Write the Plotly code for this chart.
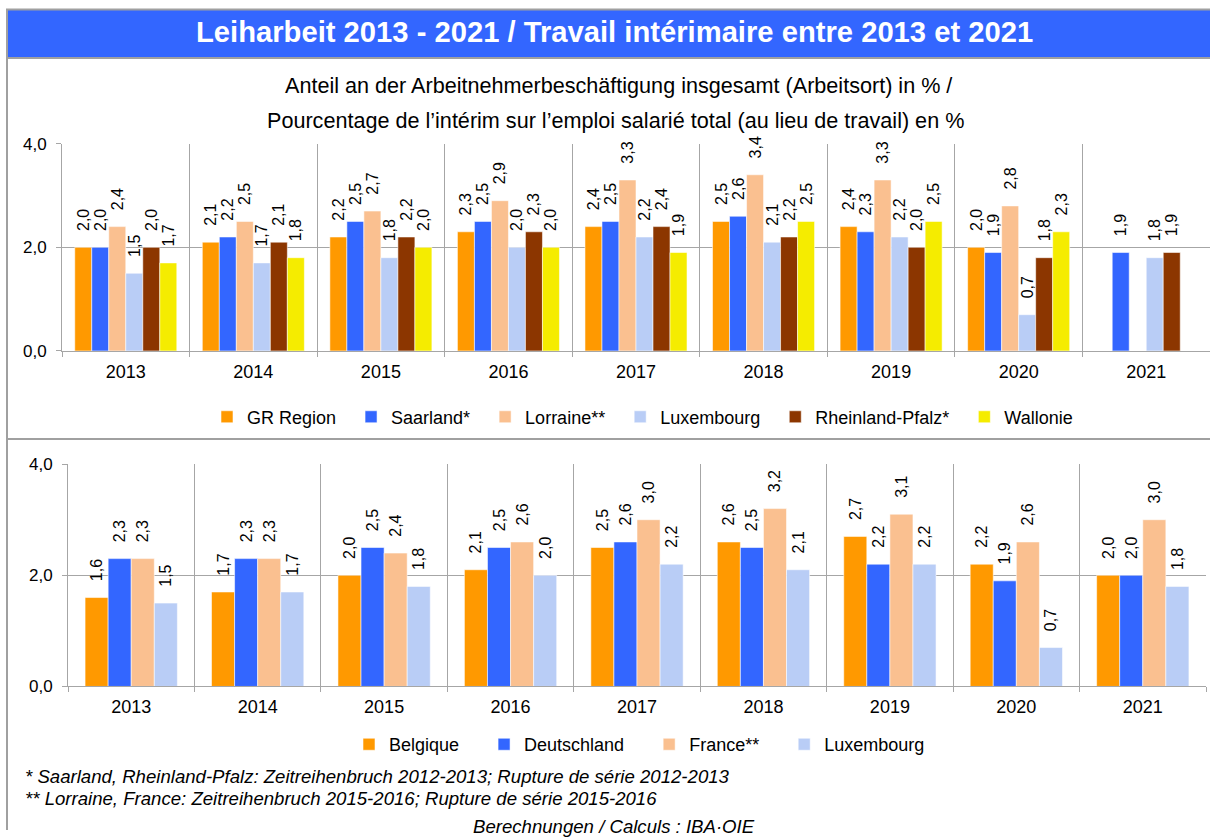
import plotly.graph_objects as go

# ---- data -------------------------------------------------------------
years = ["2013", "2014", "2015", "2016", "2017", "2018", "2019", "2020", "2021"]

# regions (upper chart)
gr_region = [2.0, 2.1, 2.2, 2.3, 2.4, 2.5, 2.4, 2.0, None]
saarland = [2.0, 2.2, 2.5, 2.5, 2.5, 2.6, 2.3, 1.9, 1.9]
lorraine = [2.4, 2.5, 2.7, 2.9, 3.3, 3.4, 3.3, 2.8, None]
luxembourg_r = [1.5, 1.7, 1.8, 2.0, 2.2, 2.1, 2.2, 0.7, 1.8]
rheinland_pfalz = [2.0, 2.1, 2.2, 2.3, 2.4, 2.2, 2.0, 1.8, 1.9]
wallonie = [1.7, 1.8, 2.0, 2.0, 1.9, 2.5, 2.5, 2.3, None]

# countries (lower chart)
belgique = [1.6, 1.7, 2.0, 2.1, 2.5, 2.6, 2.7, 2.2, 2.0]
deutschland = [2.3, 2.3, 2.5, 2.5, 2.6, 2.5, 2.2, 1.9, 2.0]
france = [2.3, 2.3, 2.4, 2.6, 3.0, 3.2, 3.1, 2.6, 3.0]
luxembourg_c = [1.5, 1.7, 1.8, 2.0, 2.2, 2.1, 2.2, 0.7, 1.8]

# ---- styling ------------------------------------------------------------
W, H = 1210, 840
FONT = "Liberation Sans, Arial, sans-serif"
ORANGE, BLUE, PEACH, LIGHTBLUE, BROWN, YELLOW = (
    "#FF9900", "#3366FF", "#FAC090", "#B9CDF6", "#8C3600", "#F5EC00")
GRID = "#A6A6A6"
NB = "\u00a0"

# vertical page layout (pixel rows from the top, as seen on screen)
Y_TOP, Y_SCALE = 10.5, 0.976


def px(x):
    return x / W


def py(y):
    y = (y - Y_TOP) / Y_SCALE
    return min(1.0, max(0.0, 1 - y / H))


def fmt(vals):
    # comma decimal labels, padded so they sit a little above the bars
    return [NB * 3 + f"{v:.1f}".replace(".", ",") if v is not None else ""
            for v in vals]


fig = go.Figure()

top_series = [
    ("GR Region", gr_region, ORANGE),
    ("Saarland*", saarland, BLUE),
    ("Lorraine**", lorraine, PEACH),
    ("Luxembourg", luxembourg_r, LIGHTBLUE),
    ("Rheinland-Pfalz*", rheinland_pfalz, BROWN),
    ("Wallonie", wallonie, YELLOW),
]
for name, vals, col in top_series:
    fig.add_trace(go.Bar(
        x=years, y=vals, name=name + NB * 2, xaxis="x", yaxis="y", legend="legend",
        marker=dict(color=col, line=dict(color="rgba(255,255,255,0.55)", width=1)),
        text=fmt(vals), textposition="outside", textangle=-90,
        textfont=dict(family=FONT, size=16, color="black"),
        constraintext="none", cliponaxis=False, hoverinfo="skip",
    ))

bottom_series = [
    ("Belgique", belgique, ORANGE),
    ("Deutschland", deutschland, BLUE),
    ("France**", france, PEACH),
    ("Luxembourg", luxembourg_c, LIGHTBLUE),
]
group_w = 0.73
bw = group_w / len(bottom_series)
for i, (name, vals, col) in enumerate(bottom_series):
    fig.add_trace(go.Bar(
        x=years, y=vals, name=name + NB * 4, xaxis="x2", yaxis="y2", legend="legend2",
        width=bw, offset=-group_w / 2 + i * bw,
        marker=dict(color=col, line=dict(color="rgba(255,255,255,0.55)", width=1)),
        text=fmt(vals), textposition="outside", textangle=-90,
        textfont=dict(family=FONT, size=16, color="black"),
        constraintext="none", cliponaxis=False, hoverinfo="skip",
    ))

xaxis_common = dict(
    type="category", range=[-0.5, 8.5], showgrid=True, gridcolor=GRID, gridwidth=1,
    tickson="boundaries", ticks="outside", ticklen=5, tickcolor=GRID,
    showline=True, linecolor=GRID, linewidth=1,
    tickfont=dict(family=FONT, size=18, color="black"), ticklabelstandoff=4,
    fixedrange=True,
)
yaxis_common = dict(
    range=[0, 4], tickvals=[0, 2, 4], tickformat=".1f", showgrid=True,
    gridcolor=GRID, gridwidth=1, zeroline=False, showline=True, linecolor=GRID,
    linewidth=1, ticks="outside", ticklen=5, tickcolor=GRID,
    tickfont=dict(family=FONT, size=17, color="black"), ticklabelstandoff=6,
    fixedrange=True,
)

legend_common = dict(
    orientation="h", xanchor="left", yanchor="middle",
    font=dict(family=FONT, size=18, color="black"), bgcolor="rgba(0,0,0,0)",
    traceorder="normal", itemclick=False, itemdoubleclick=False,
)

fig.update_layout(
    width=W, height=H, margin=dict(l=0, r=0, t=0, b=0),
    paper_bgcolor="white", plot_bgcolor="white",
    separators=",.", barmode="group", bargap=0.2, bargroupgap=0,
    font=dict(family=FONT, color="black"),
    xaxis=dict(domain=[px(62), px(1210)], anchor="y", **xaxis_common),
    yaxis=dict(domain=[py(352), py(145)], anchor="x", **yaxis_common),
    xaxis2=dict(domain=[px(68), px(1206)], anchor="y2", **xaxis_common),
    yaxis2=dict(domain=[py(687), py(465)], anchor="x2", **yaxis_common),
    legend=dict(x=px(207), y=py(418), **legend_common),
    legend2=dict(x=px(349), y=py(745), **legend_common),
    showlegend=True,
)

# frame, title band and separator
shapes = [
    dict(type="line", xref="paper", yref="paper", x0=px(7), x1=px(7),
         y0=0, y1=py(10), line=dict(color="#A0A0A0", width=2)),
    dict(type="rect", xref="paper", yref="paper", x0=px(8), x1=1,
         y0=py(59), y1=py(10), line=dict(width=0), fillcolor="#3366FF"),
    dict(type="line", xref="paper", yref="paper", x0=px(6), x1=1,
         y0=py(11), y1=py(11), line=dict(color="#A0A0A0", width=2)),
    dict(type="line", xref="paper", yref="paper", x0=px(8), x1=1,
         y0=py(59.5), y1=py(59.5), line=dict(color="#A0A0A0", width=2)),
    dict(type="line", xref="paper", yref="paper", x0=px(8), x1=1,
         y0=py(440), y1=py(440), line=dict(color="#A0A0A0", width=2)),
]
fig.update_layout(shapes=shapes)

annotations = [
    dict(text="<b>Leiharbeit 2013 - 2021 / Travail intérimaire entre 2013 et 2021</b>",
         x=px(614.5), y=py(33), font=dict(family=FONT, size=29.2, color="white")),
    dict(text="Anteil an der Arbeitnehmerbeschäftigung insgesamt (Arbeitsort) in % /",
         x=px(618), y=py(87), font=dict(family=FONT, size=21.6, color="black")),
    dict(text="Pourcentage de l’intérim sur l’emploi salarié total (au lieu de travail) en %",
         x=px(616), y=py(122), font=dict(family=FONT, size=21.6, color="black")),
    dict(text="<i>* Saarland, Rheinland-Pfalz: Zeitreihenbruch 2012-2013; Rupture de série 2012-2013</i>",
         x=px(23), y=py(777), xanchor="left", font=dict(family=FONT, size=18.6, color="black")),
    dict(text="<i>** Lorraine, France: Zeitreihenbruch 2015-2016; Rupture de série 2015-2016</i>",
         x=px(23), y=py(799), xanchor="left", font=dict(family=FONT, size=18.6, color="black")),
    dict(text="<i>Berechnungen / Calculs : IBA·OIE</i>",
         x=px(614), y=py(827), font=dict(family=FONT, size=18.6, color="black")),
]
for a in annotations:
    a.setdefault("xanchor", "center")
    a.update(xref="paper", yref="paper", yanchor="middle", showarrow=False)
fig.update_layout(annotations=annotations)

fig.write_html("out.html", config={"displayModeBar": False})
